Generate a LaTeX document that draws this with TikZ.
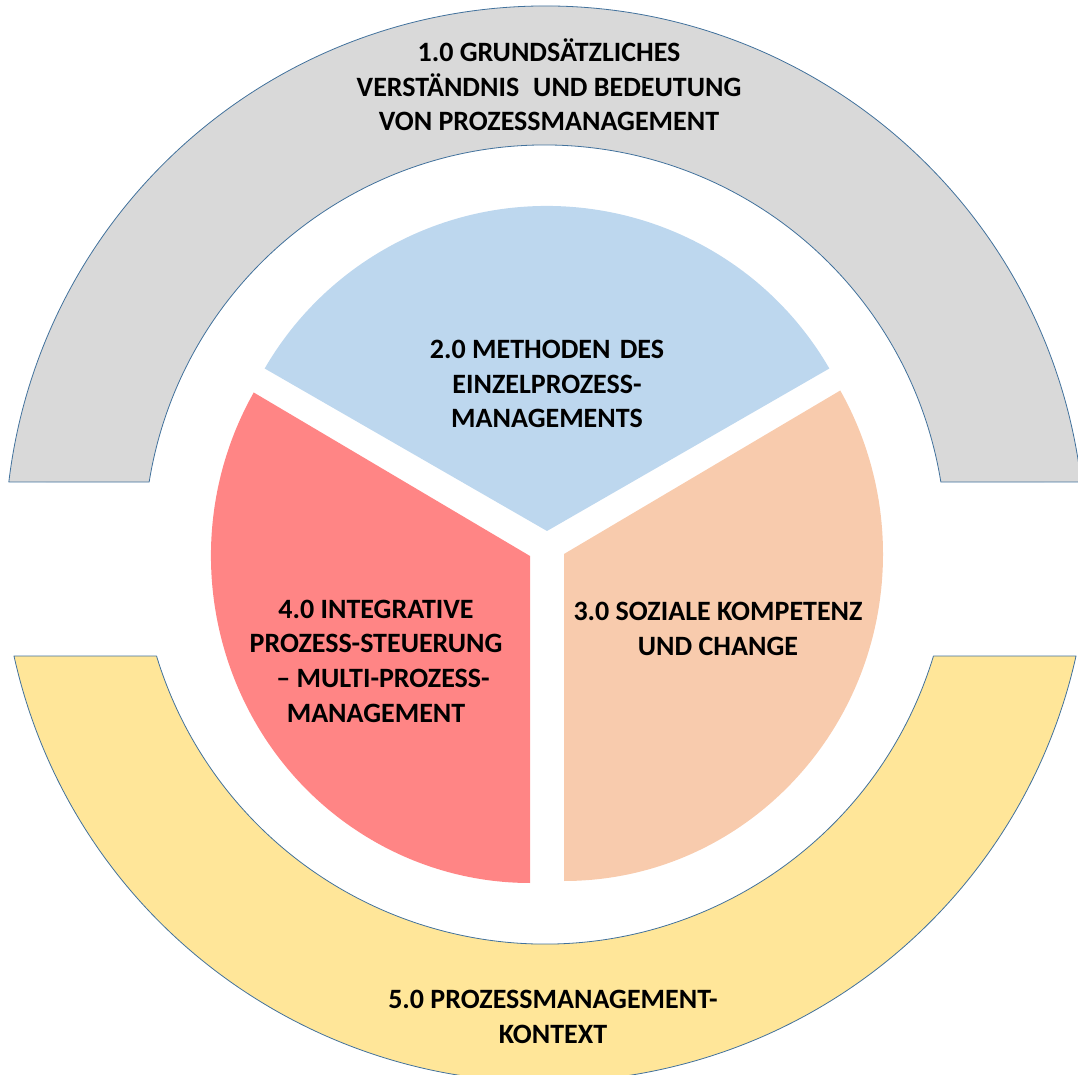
\documentclass[tikz,border=0pt]{standalone}
\usepackage{fontspec}
\setmainfont{Carlito}
\definecolor{ringgray}{HTML}{D9D9D9}
\definecolor{ringyellow}{HTML}{FFE699}
\definecolor{ringline}{HTML}{41719C}
\definecolor{pieblue}{HTML}{BDD7EE}
\definecolor{piered}{HTML}{FF8585}
\definecolor{piepeach}{HTML}{F8CBAD}
\begin{document}
\begin{tikzpicture}[x=1pt,y=1pt,
  ring/.style={draw=ringline,line width=0.8pt,line join=round},
  lbl/.style={font=\bfseries\fontsize{28}{34.5}\selectfont,align=center,text=black,inner sep=0pt,anchor=base}]
\useasboundingbox (0,0) rectangle (1078,1074);
\clip (0,0) rectangle (1078,1074);
% outer gray ring (top)
\begin{scope}[shift={(545,528)}]
  \path[ring,fill=ringgray] (6.807:540) arc[start angle=6.807,end angle=173.193,radius=540]
    -- (170.816:401) arc[start angle=170.816,end angle=9.184,radius=401] -- cycle;
\end{scope}
% outer yellow ring (bottom)
\begin{scope}[shift={(545,536)}]
  \path[ring,fill=ringyellow] (192.53:544) arc[start angle=192.53,end angle=347.47,radius=544]
    -- (343.10:406) arc[start angle=343.10,end angle=196.90,radius=406] -- cycle;
\end{scope}
% pie sectors
\fill[pieblue] (547,543) -- ++({326*cos(30)},{325*sin(30)})
  arc[start angle=30,end angle=150,x radius=326,y radius=325] -- cycle;
\fill[piered] (530,518) -- ++({319*cos(150)},{327*sin(150)})
  arc[start angle=150,end angle=270,x radius=319,y radius=327] -- cycle;
\fill[piepeach] (564,520) -- ++({319*cos(-90)},{327*sin(-90)})
  arc[start angle=-90,end angle=30,x radius=319,y radius=327] -- cycle;
% labels (anchor = baseline of the last line)
\node[lbl] (t1) at (549,943) {1.0 GRUNDSÄTZLICHES\\VERSTÄNDNIS\hspace{0.5em}UND BEDEUTUNG\\VON PROZESSMANAGEMENT};
\node[lbl] (t2) at (547,646) {2.0 METHODEN\hspace{0.33em}DES\\EINZELPROZESS-\\MANAGEMENTS};
\node[lbl] (t3) at (718,418.5) {3.0 SOZIALE KOMPETENZ\\UND CHANGE};
\node[lbl] (t4) at (376,352) {4.0 INTEGRATIVE\\PROZESS-STEUERUNG\\\hspace*{0.5em}– MULTI-PROZESS-\\MANAGEMENT};
\node[lbl] (t5) at (553,31) {5.0 PROZESSMANAGEMENT-\\KONTEXT};
\end{tikzpicture}
\end{document}
